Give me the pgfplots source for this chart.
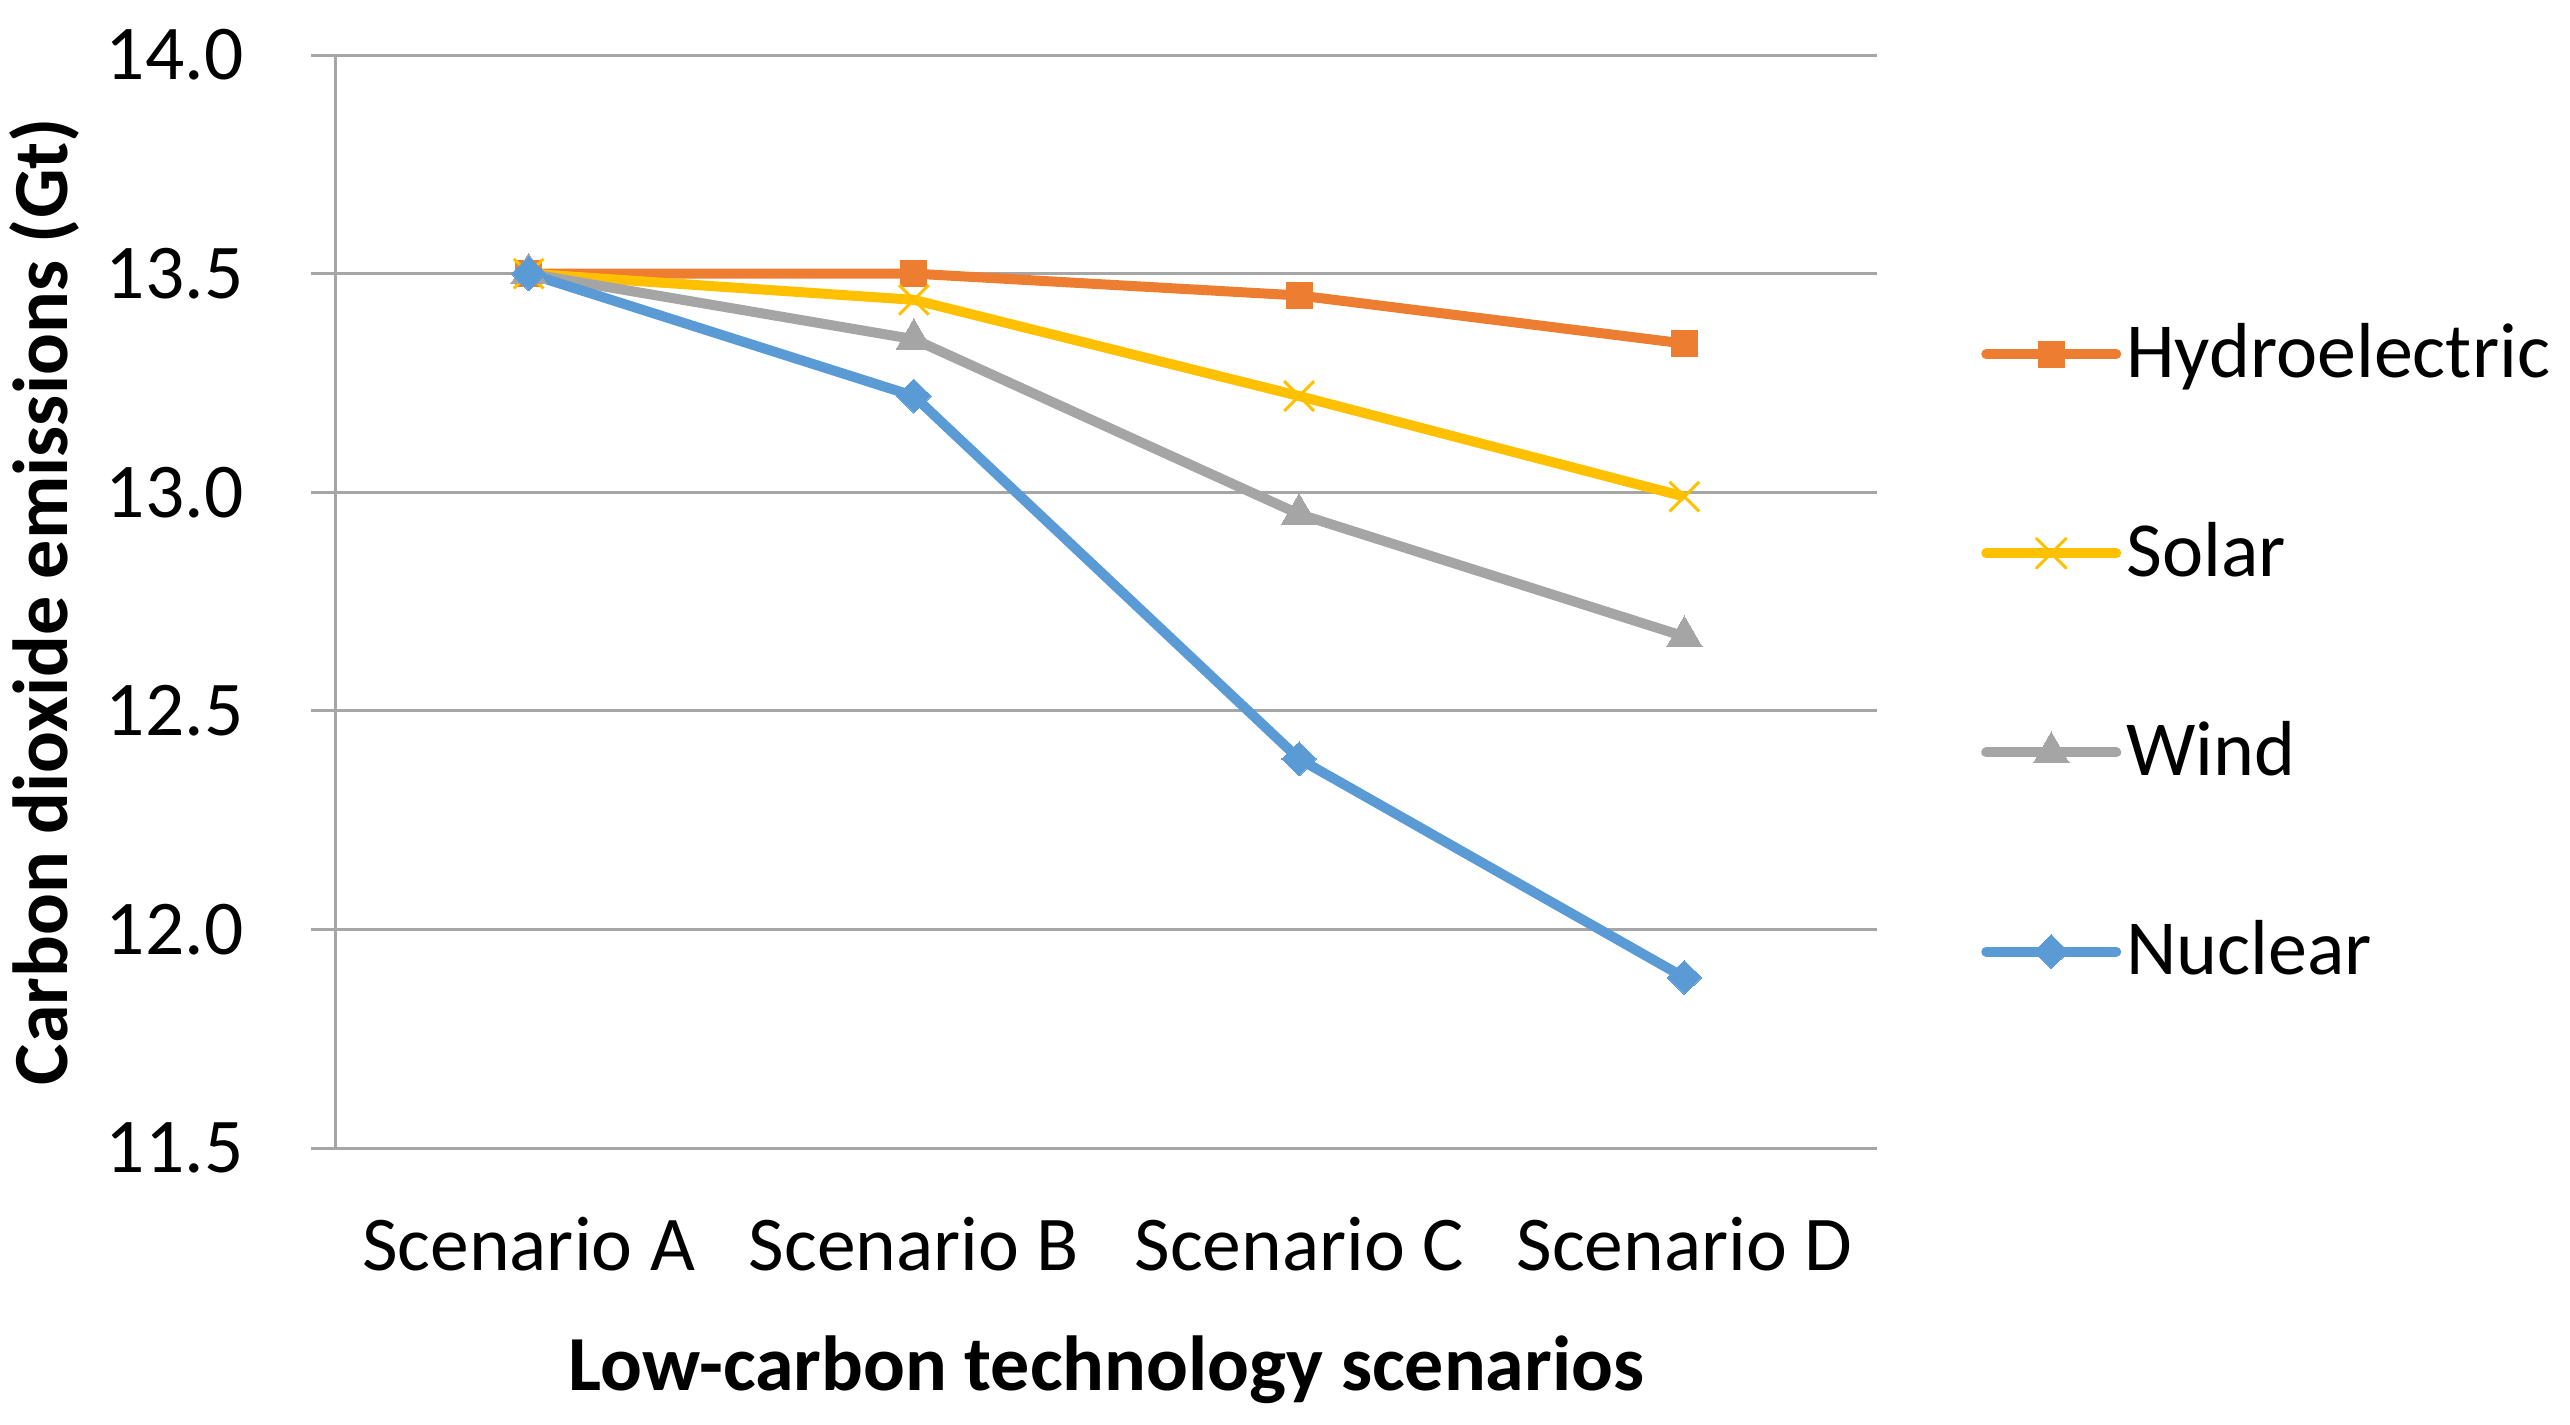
\documentclass[border=0pt]{standalone}
\usepackage{pgfplots}
\pgfplotsset{compat=1.18}
\usepackage{fontspec}
\setmainfont{Carlito}

\definecolor{hydro}{HTML}{ED7D31}
\definecolor{solar}{HTML}{FFC000}
\definecolor{wind}{HTML}{A5A5A5}
\definecolor{nuclear}{HTML}{5B9BD5}
\definecolor{gridgray}{HTML}{A6A6A6}

\begin{document}
\begin{tikzpicture}
\begin{axis}[
    scale only axis,
    width=308.2pt,
    height=218.6pt,
    xmin=-0.5, xmax=3.5,
    ymin=11.5, ymax=14.0,
    xtick={0,1,2,3},
    xticklabels={Scenario A, Scenario B, Scenario C, Scenario D},
    ytick={11.5,12,12.5,13,13.5,14},
    yticklabel style={/pgf/number format/fixed,
        /pgf/number format/fixed zerofill,
        /pgf/number format/precision=1, xshift=-10pt},
    /pgf/number format/assume math mode=true,
    axis lines*=left,
    axis line style={draw=gridgray, line width=0.6pt},
    ymajorgrids=true,
    grid style={draw=gridgray, line width=0.6pt},
    xtick style={draw=none},
    ytick style={draw=gridgray, line width=0.6pt},
    tick align=outside,
    major tick length=5pt,
    tick label style={font=\fontsize{15.5}{18}\selectfont},
    xticklabel style={yshift=-5.3pt},
    xlabel={Low-carbon technology scenarios},
    ylabel={Carbon dioxide emissions (Gt)},
    label style={font=\fontsize{15.6}{18}\selectfont\bfseries},
    xlabel style={yshift=-6pt},
    ylabel style={yshift=-1.6pt},
    legend style={at={(1.067,0.453)}, anchor=west, draw=none, fill=none,
        inner sep=0pt, row sep=25.5pt, font=\fontsize{15.6}{18}\selectfont,
        nodes={inner sep=1pt}},
    legend cell align=left,
    legend image code/.code={
        \draw[mark repeat=2, mark phase=2, line cap=round, #1]
            plot coordinates {(0pt,0pt) (13pt,0pt) (26pt,0pt)};
    },
    every axis plot/.append style={line width=2pt, line join=round},
]
\addplot[color=hydro, mark=square*, mark size=2.6pt, mark options={line width=0pt}]
    coordinates {(0,13.50) (1,13.50) (2,13.45) (3,13.34)};
\addplot[color=solar, mark=x, mark size=4.2pt, mark options={line width=0.6pt}]
    coordinates {(0,13.50) (1,13.44) (2,13.22) (3,12.99)};
\addplot[color=wind, mark=triangle*, mark size=4.1pt, mark options={line width=0pt}]
    coordinates {(0,13.50) (1,13.35) (2,12.95) (3,12.67)};
\addplot[color=nuclear, mark=diamond*, mark size=3.4pt, mark options={line width=0pt, xscale=1.35}]
    coordinates {(0,13.50) (1,13.22) (2,12.39) (3,11.89)};
\legend{Hydroelectric, Solar, Wind, Nuclear}
\end{axis}
\pgfresetboundingbox
\path[use as bounding box] (-67.2pt,-55.2pt) rectangle (446.8pt,229.6pt);
\end{tikzpicture}
\end{document}
